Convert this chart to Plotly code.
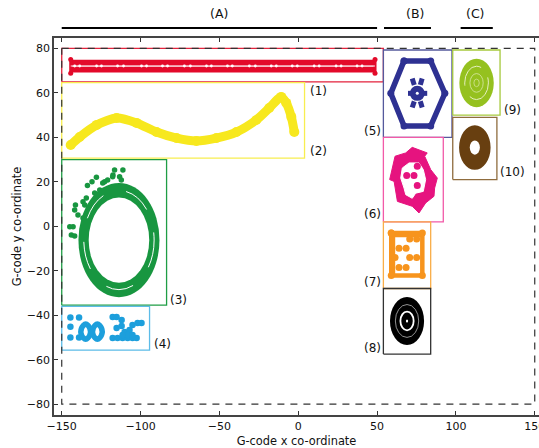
import plotly.graph_objects as go

# ---- frame and region boxes (data units)
outline_x = [-150, 150, 150, -150, -150]
outline_y = [80, 80, -80, -80, 80]
box_names = ["1", "2", "3", "4", "5", "6", "7", "8", "9", "10"]
box_x0 = [-150, -150, -150, -150, 54, 54, 54, 54, 98, 98]
box_x1 = [54, 4, -83.5, -94.3, 97.5, 92, 84, 84, 128, 126]
box_y0 = [65, 30.7, -35.5, -55.7, 40, 2, -28, -57.5, 50, 21]
box_y1 = [80, 64.6, 30, -36, 79.3, 40, 2, -28, 79.3, 49]
box_colors = ["#e4223c", "#f8ee50", "#1f9d45", "#5cbce8", "#55599c", "#f25aa8", "#f9ae48", "#333333", "#a6c93c", "#8f6c3e"]

# ---- (1) red strip
red_top_x = [-144.3, 48.7]
red_top_y = [73.6, 73.6]
red_bot_x = [-144.3, 48.7]
red_bot_y = [70.5, 70.5]
red_gap_y = [72.1, 72.1]
red_end_x = [-144.3, -144.3, None, 48.7, 48.7]
red_end_y = [75, 68.8, None, 75, 68.8]
red_hole_x = [-141.8, -138.6, -127.9, -124.8, -114.6, -110.8, -99.4, -96.2, -86.1, -82.9, -72.2, -68.4,
              -58.2, -55.1, -44.9, -41.8, -31, -27.2, -17.1, -13.9, -3.8, -0.6, 10.1, 13.3, 24, 27.2, 37.3, 40.5]
red_hole_y = [72.1] * len(red_hole_x)

# ---- (2) yellow curve
yellow_x = [-144.3, -138.6, -127.8, -115.2, -102.5, -89.9, -77.2, -64.6, -51.9, -39.2, -26.6, -18.4, -10.8, -7.6, -4.4, -2.5]
yellow_y = [36.6, 40.2, 45.6, 48.7, 46.5, 42.4, 39.7, 38.4, 39.7, 42.4, 47.8, 53.2, 58.2, 55.5, 49.2, 42.4]

# ---- (3) green ring and dots
green_x = [-111.2, -116.5, -117.5, -113.3, -112.2, -120.9, -122.8, -125.9, -124, -117.7, -128, -130.8, -133.7,
           -129.1, -134.4, -136.5, -135.4, -141.3, -141.8, -139.7, -136.5, -144.9, -142.8, -143.9, -141.8]
green_y = [25.3, 25.3, 23.1, 22.3, 20.8, 20.8, 20, 16.3, 19.5, 22.3, 22, 20, 18.3,
           15, 12.7, 11, 9.6, 9.6, 7.3, 5.1, 3.7, -0.2, -0.2, -3.9, -4.4]

# ---- (4) blue text-like marks
blue_dot_x = [-144.5, -139, -144.5, -144.5, -139]
blue_dot_y = [-41, -41, -45.2, -50, -50]
blue_zero_x = [-134.8, -132.2, -132.2, -134.8, -137.4, -137.4, -134.8, None, -127.4, -124.8, -124.8, -127.4, -130, -130, -127.4]
blue_zero_y = [-44, -45.8, -49, -50.8, -49, -45.8, -44, None, -44, -45.8, -49, -50.8, -49, -45.8, -44]
blue_x = [-117.7, -114.6, -111.4, -108.2, -105.1, -102.5, -117.7, -115.2, -112, -115.2, -112, -110.1, -107, -105.1, -101.9, -99.4, -108.2, -105.1, -111.4]
blue_y = [-50.3, -50.3, -50.3, -50.3, -50.3, -50.3, -40.8, -40.8, -42.2, -45.8, -44.9, -47.6, -46.7, -44.4, -43.5, -43.5, -48.9, -48.9, -48.9]

# ---- (5) navy hexagon and centre
hex_x = [67.1, 84, 93, 84, 67.1, 58.7, 67.1]
hex_y = [74.4, 74.4, 59.8, 45.1, 45.1, 59.8, 74.4]
petal_x = [72.3, 73.6, None, 78.6, 77.4, None, 69.6, 81.8, None, 72.3, 73.6, None, 78.6, 77.4]
petal_y = [66.5, 63.6, None, 66.5, 63.6, None, 59.8, 59.8, None, 53.4, 56.2, None, 53.4, 56.2]
hub_x = [75.5]
hub_y = [59.8]

# ---- (6) pink blob
pink_x = [72.3, 76.6, 81.8, 80.2, 84, 88.2, 86.5, 86.1, 80.8, 76.6, 72.3, 62.9, 61.8, 60.8, 58, 59.7, 61.4, 68.2, 72.3]
pink_y = [35.5, 34.5, 33, 31.5, 25.5, 21.7, 17.2, 13.5, 10.5, 6, 9, 11.2, 16.5, 20.2, 21, 26.2, 31.5, 33, 35.5]
pink_hole_x = [70.3, 76.6, 79.3, 80.8, 79.3, 74.5, 72.3, 68.2, 67.1, 65, 66, 70.3]
pink_hole_y = [28.5, 28.5, 25.5, 21, 15.7, 14.9, 12.6, 14.2, 17.2, 21.7, 26.2, 28.5]
pink_dot_x = [75.5, 68.8, 73.4, 75.5]
pink_dot_y = [27, 22.8, 22.8, 18.3]

# ---- (7) orange frame
orange_x = [59, 78.7, 78.7, 59, 59]
orange_y = [-3, -3, -22.1, -22.1, -3]
orange_thick_x = [59.6, 59.6, 78.2]
orange_thick_y = [-21.5, -3.6, -3.6]
orange_dot_x = [63.9, 68.4, 70.7, 75.1, 61.4, 70.7, 75.1, 63.9, 68.4]
orange_dot_y = [-9.9, -9.9, -5.7, -5.7, -14.1, -14.1, -14.1, -18.5, -18.5]

# ---- concentric discs: centre x, centre y, radius, fill, outline, line width, dash
disc_x = [-113.7, -113.7, -113.7, 69, 69, 69, 69, 113.1, 113.1, 113.1, 113.1, 112, 112]
disc_y = [-6.2, -6.2, -6.2, -42.6, -42.6, -42.6, -42.6, 64.5, 64.5, 64.5, 64.5, 35.4, 35.4]
disc_r = [25.7, 22.3, 19.2, 10.8, 7.4, 4.2, 0.7, 10.9, 7.5, 4.2, 1.7, 10, 3.2]
disc_fill = ["#189640", "rgba(0,0,0,0)", "#ffffff", "#000000", "rgba(0,0,0,0)", "rgba(0,0,0,0)", "#ffffff",
             "#95c11f", "rgba(0,0,0,0)", "rgba(0,0,0,0)", "rgba(0,0,0,0)", "#683f10", "#ffffff"]
disc_line = ["#189640", "#ffffff", "#189640", "#000000", "#d0d0d0", "#ffffff", "#ffffff",
             "#95c11f", "#e6efc0", "#dbe8a8", "#dbe8a8", "#683f10", "#ffffff"]
disc_width = [0, 1.0, 0, 0, 0.7, 1.8, 0, 0, 1, 0.8, 0.7, 0, 0]
disc_dash = ["solid", "28px,24px", "solid", "solid", "solid", "solid", "solid", "solid", "30px,12px", "solid", "solid", "solid", "solid"]

# ---- text
region_labels = ["(1)", "(2)", "(3)", "(4)", "(5)", "(6)", "(7)", "(8)", "(9)", "(10)"]
region_label_x = [6.3, 6.3, -82.3, -93, 53.6, 53.6, 53.6, 53.6, 129, 127]
region_label_y = [60.9, 33.9, -33.2, -53, 42.9, 5.5, -25, -54.8, 52.3, 24.4]
region_label_anchor = ["left", "left", "left", "left", "right", "right", "right", "right", "left", "left"]
group_labels = ["(A)", "(B)", "(C)"]
group_label_x = [-50, 74, 112]
group_bar_x0 = [-150, 54.4, 103]
group_bar_x1 = [50, 84.2, 123.4]

fig = go.Figure()


def line(x, y, color, width, dash="solid", **kw):
    fig.add_trace(go.Scatter(x=x, y=y, mode="lines", line=dict(color=color, width=width, dash=dash),
                             hoverinfo="skip", showlegend=False, **kw))


def dots(x, y, color, size):
    fig.add_trace(go.Scatter(x=x, y=y, mode="markers", marker=dict(color=color, size=size, line=dict(width=0)),
                             hoverinfo="skip", showlegend=False))


for i in range(len(box_names)):
    line([box_x0[i], box_x1[i], box_x1[i], box_x0[i], box_x0[i]],
         [box_y0[i], box_y0[i], box_y1[i], box_y1[i], box_y0[i]], box_colors[i], 1.3)

line(outline_x, outline_y, "#333333", 1.2, dash="7px,6px")

# red strip
line(red_top_x, red_top_y, "#e30a2a", 6)
line(red_bot_x, red_bot_y, "#e30a2a", 6)
line(red_end_x, red_end_y, "#e30a2a", 3)
dots(red_end_x, red_end_y, "#e30a2a", 5)
line(red_top_x, red_gap_y, "#ffffff", 0.9)
dots(red_hole_x, red_hole_y, "#ffffff", 2.8)

# yellow
fig.add_trace(go.Scatter(x=yellow_x, y=yellow_y, mode="lines",
                         line=dict(color="#f7e81e", width=9, shape="spline", smoothing=0.7),
                         hoverinfo="skip", showlegend=False))
dots(yellow_x, yellow_y, "#f7e81e", 10)

# green
dots(green_x, green_y, "#189640", 5.5)

# blue
dots(blue_dot_x, blue_dot_y, "#1d9fdc", 6.5)
fig.add_trace(go.Scatter(x=blue_zero_x, y=blue_zero_y, mode="lines",
                         line=dict(color="#1d9fdc", width=5.5, shape="spline"),
                         hoverinfo="skip", showlegend=False))
dots(blue_x, blue_y, "#1d9fdc", 6.5)

# navy
line(hex_x, hex_y, "#2e3192", 5.5)
dots(hex_x, hex_y, "#2e3192", 7)
line(petal_x, petal_y, "#2e3192", 5)
dots(hub_x, hub_y, "#2e3192", 15)
dots(hub_x, hub_y, "#ffffff", 3)

# pink
fig.add_trace(go.Scatter(x=pink_x, y=pink_y, mode="lines", fill="toself", fillcolor="#e6137f",
                         line=dict(color="#e6137f", width=1), hoverinfo="skip", showlegend=False))
fig.add_trace(go.Scatter(x=pink_hole_x, y=pink_hole_y, mode="lines", fill="toself", fillcolor="#ffffff",
                         line=dict(color="#ffffff", width=1), hoverinfo="skip", showlegend=False))
dots(pink_dot_x, pink_dot_y, "#e6137f", 7)

# orange
line(orange_x, orange_y, "#f7941d", 4.5)
line(orange_thick_x, orange_thick_y, "#f7941d", 6)
dots(orange_x, orange_y, "#f7941d", 7)
dots(orange_dot_x, orange_dot_y, "#f7941d", 7)

shapes = []
for i in range(len(disc_x)):
    shapes.append(dict(type="circle", xref="x", yref="y", layer="above",
                       x0=disc_x[i] - disc_r[i], x1=disc_x[i] + disc_r[i],
                       y0=disc_y[i] - disc_r[i], y1=disc_y[i] + disc_r[i],
                       fillcolor=disc_fill[i],
                       line=dict(color=disc_line[i], width=disc_width[i], dash=disc_dash[i])))
for x0, x1 in zip(group_bar_x0, group_bar_x1):
    shapes.append(dict(type="line", xref="x", yref="paper", x0=x0, x1=x1, y0=1.0265, y1=1.0265,
                       line=dict(color="#000000", width=2.2)))

annotations = []
for t, x, y, a in zip(region_labels, region_label_x, region_label_y, region_label_anchor):
    annotations.append(dict(text=t, x=x, y=y, xref="x", yref="y", showarrow=False, xanchor=a,
                            yanchor="middle", font=dict(family="DejaVu Sans", size=12, color="#111111")))
for t, x in zip(group_labels, group_label_x):
    annotations.append(dict(text=t, x=x, y=1.0637, xref="x", yref="paper", showarrow=False, xanchor="center",
                            yanchor="middle", font=dict(family="DejaVu Sans", size=12.5, color="#111111")))

fig.update_layout(
    width=539, height=448,
    margin=dict(l=54, r=0, t=38, b=33),
    paper_bgcolor="#ffffff", plot_bgcolor="#ffffff",
    showlegend=False, shapes=shapes, annotations=annotations,
    font=dict(family="DejaVu Sans", size=11, color="#111111"),
    xaxis=dict(range=[-154.9, 152.7], tickvals=[-150, -100, -50, 0, 50, 100, 150], ticklabeloverflow="allow",
               automargin=False,
               ticks="inside", ticklen=4, tickcolor="#333333", tickwidth=1, showgrid=False, zeroline=False,
               showline=True, linecolor="#444444", linewidth=1.5, mirror="ticks",
               title=dict(text="G-code x co-ordinate", font=dict(size=11.4))),
    yaxis=dict(range=[-84.9, 84.7], tickvals=[-80, -60, -40, -20, 0, 20, 40, 60, 80],
               automargin=True,
               ticks="inside", ticklen=4, tickcolor="#333333", tickwidth=1, showgrid=False, zeroline=False,
               showline=True, linecolor="#444444", linewidth=1.5, mirror=False,
               title=dict(text="G-code y co-ordinate", font=dict(size=11.4), standoff=3)),
)

fig.write_html("out.html", config={"displayModeBar": False},
               post_script="document.body.style.margin='0px';document.body.style.overflow='hidden';")
